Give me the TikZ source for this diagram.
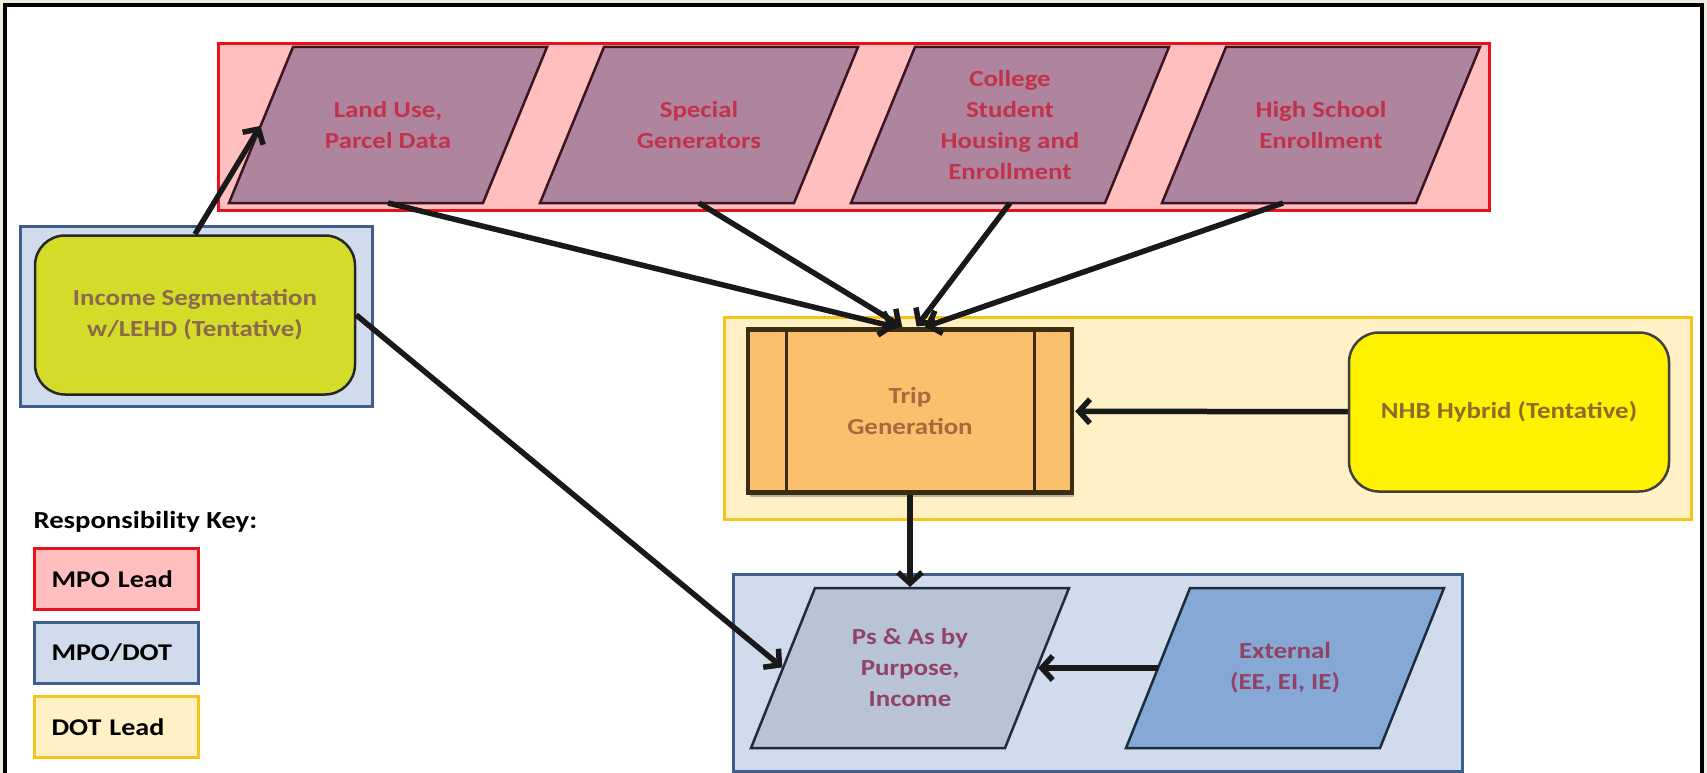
\documentclass[tikz,border=0pt]{standalone}
\usepackage{fontspec}
\setmainfont{Carlito}[FakeStretch=1.17]
\usetikzlibrary{arrows.meta,positioning,shadows}

\definecolor{mpofill}{RGB}{255,191,191}
\definecolor{mpoline}{RGB}{232,18,28}
\definecolor{bothfill}{RGB}{208,220,236}
\definecolor{bothline}{RGB}{64,94,138}
\definecolor{dotfill}{RGB}{255,240,197}
\definecolor{dotline}{RGB}{246,196,24}
\definecolor{datafill}{RGB}{174,132,158}
\definecolor{dataline}{RGB}{60,20,34}
\definecolor{datatext}{RGB}{194,50,76}
\definecolor{incfill}{RGB}{212,220,42}
\definecolor{inctext}{RGB}{140,104,76}
\definecolor{tripfill}{RGB}{250,192,110}
\definecolor{tripline}{RGB}{60,44,16}
\definecolor{triptext}{RGB}{170,104,60}
\definecolor{nhbfill}{RGB}{255,242,0}
\definecolor{nhbtext}{RGB}{140,108,40}
\definecolor{psfill}{RGB}{184,196,214}
\definecolor{extfill}{RGB}{134,168,212}
\definecolor{blueline}{RGB}{30,44,62}
\definecolor{pstext}{RGB}{146,66,102}
\definecolor{framebg}{RGB}{238,236,224}

\pgfdeclarelayer{back}
\pgfdeclarelayer{shapes}
\pgfsetlayers{back,shapes,main}

% parallelogram behind a named text node
\newcommand{\datashape}[2]{%
  \begin{pgfonlayer}{shapes}
    \draw[line width=2.5pt, #2] ([xshift=64pt]#1.north west) -- (#1.north east)
      -- ([xshift=-64pt]#1.south east) -- (#1.south west) -- cycle;
  \end{pgfonlayer}}

\tikzset{
  boxfont/.style={font=\fontsize{23}{31}\selectfont\bfseries, align=center},
  group/.style={line width=3pt},
  data/.style={boxfont, rectangle, minimum width=318pt, minimum height=156pt,
    inner sep=0pt, outer sep=0pt, text=datatext},
  rounded/.style={boxfont, rectangle, rounded corners=30pt, line width=2.5pt,
    minimum width=320pt, minimum height=159pt},
  keybox/.style={font=\fontsize{24}{28}\selectfont\bfseries, align=left, anchor=north west,
    text width=130pt, inner xsep=17pt, minimum height=61pt, line width=3pt},
  flow/.style={draw, line width=5.5pt, color=black!90}
}

\begin{document}
\begin{tikzpicture}[x=1pt,y=-1pt,node distance=311pt,on grid,shorten >=1pt,
  >={Straight Barb[length=11pt,width=24pt]}]
	\useasboundingbox (0,0) rectangle (1707,773);
	\begin{pgfonlayer}{back}
	\fill[framebg] (0,0) rectangle (1707,773);
	\fill[white] (5,5) rectangle (1702,773);
	\draw[line width=4.5pt] (5,775) -- (5,5) -- (1702,5) -- (1702,775);

	% responsibility groups
	\draw[group, draw=mpoline, fill=mpofill] (218,44) rectangle (1489,210);
	\draw[group, draw=bothline, fill=bothfill] (20,226) rectangle (372,406);
	\draw[group, draw=dotline, fill=dotfill] (724,317) rectangle (1691,519);
	\draw[group, draw=bothline, fill=bothfill] (733,574) rectangle (1462,771);
	\end{pgfonlayer}

	% inputs
	\node[data] (lu) at (388,125) {Land Use,\\Parcel Data};
	\node[data] (sg) [right=of lu] {Special\\Generators};
	\node[data] (co) [right=of sg] {College\\Student\\Housing and\\Enrollment};
	\node[data] (hs) [right=of co] {High School\\Enrollment};
	\datashape{lu}{draw=dataline, fill=datafill}
	\datashape{sg}{draw=dataline, fill=datafill}
	\datashape{co}{draw=dataline, fill=datafill}
	\datashape{hs}{draw=dataline, fill=datafill}

	\node[rounded, draw=black!85, fill=incfill, text=inctext] (inc) at (195,315)
		{Income Segmentation\\w/LEHD (Tentative)};

	% trip generation
	\node[boxfont, rectangle, minimum width=324pt, minimum height=163pt, line width=4.5pt,
		draw=tripline, fill=tripfill, text=triptext,
		drop shadow={opacity=0.55, shadow xshift=2pt, shadow yshift=-4pt}] (trip) at (910,411)
		{Trip\\Generation};
	\draw[line width=3pt, tripline] ([xshift=41pt]trip.north west) -- ([xshift=41pt]trip.south west);
	\draw[line width=3pt, tripline] ([xshift=-40pt]trip.north east) -- ([xshift=-40pt]trip.south east);

	\node[rounded, draw=black!75, fill=nhbfill, text=nhbtext] (nhb) at (1509,412)
		{NHB Hybrid (Tentative)};

	% outputs
	\node[data, minimum height=160pt, text=pstext] (ps) at (910,668)
		{Ps \& As by\\Purpose,\\Income};
	\node[data, minimum height=160pt, text=pstext] (ext) at (1285,668)
		{External\\(EE, EI, IE)};
	\datashape{ps}{draw=blueline, fill=psfill}
	\datashape{ext}{draw=blueline, fill=extfill}

	\path[->, every edge/.style=flow]
	(inc.north) edge ([xshift=32pt]lu.west)
	(inc.east) edge ([xshift=32pt]ps.west)
	(lu.south) edge ([xshift=-14pt]trip.north)
	(sg.south) edge ([xshift=-7pt]trip.north)
	(co.south) edge ([xshift=6pt]trip.north)
	([xshift=-38pt]hs.south) edge ([xshift=14pt]trip.north)
	(nhb) edge (trip)
	(trip.south) edge (ps.north)
	([xshift=32pt]ext.west) edge ([xshift=-32pt]ps.east)
	;

	% key
	\node[font=\fontsize{24.5}{28}\selectfont\bfseries, anchor=west] (key) at (30,522) {Responsibility Key:};
	\node[keybox, draw=mpoline, fill=mpofill] (kmpo) at (33,547) {MPO Lead};
	\node[keybox, draw=bothline, fill=bothfill] (kboth) at (33,621) {MPO/DOT};
	\node[keybox, draw=dotline, fill=dotfill] (kdot) at (33,695) {DOT Lead};
\end{tikzpicture}
\end{document}
